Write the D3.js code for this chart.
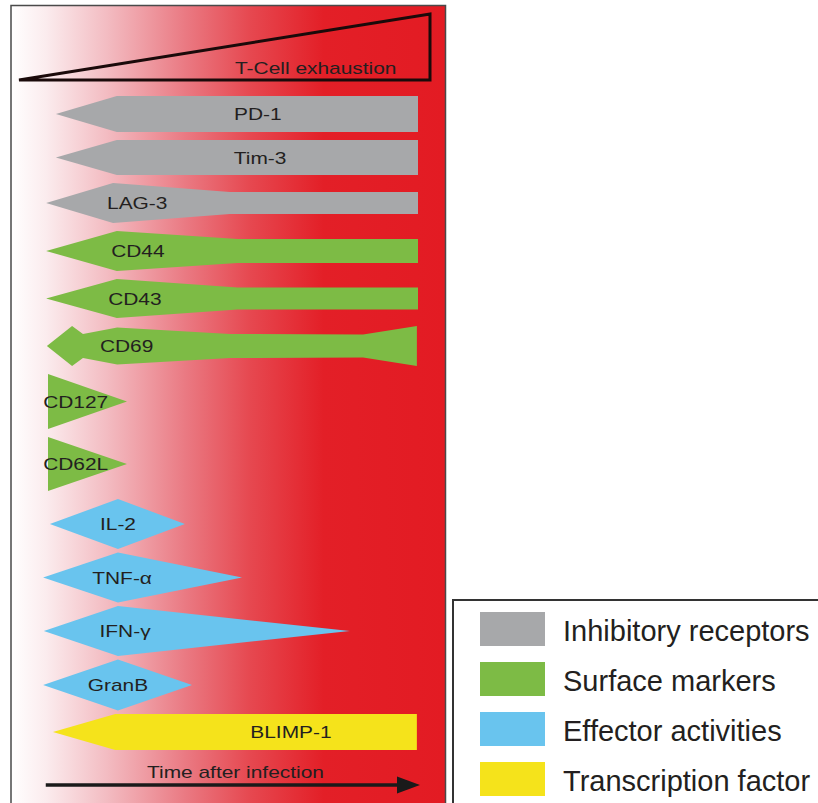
<!DOCTYPE html>
<html>
<head>
<meta charset="utf-8">
<script src="https://cdn.jsdelivr.net/npm/d3@7"></script>
<style>
  body { margin: 0; background: #fff; }
  svg { display: block; font-family: "Liberation Sans", Arial, Helvetica, sans-serif; }
</style>
</head>
<body>
<svg id="chart" width="818" height="803"></svg>
<script>
// markers, top to bottom
const markers = ["PD-1", "Tim-3", "LAG-3", "CD44", "CD43", "CD69", "CD127", "CD62L",
                 "IL-2", "TNF-\u03b1", "IFN-\u03b3", "GranB", "BLIMP-1"];
const groups = ["inhib", "inhib", "inhib", "surface", "surface", "surface", "surface", "surface",
                "effector", "effector", "effector", "effector", "tf"];

// expression profile of each marker: [time (0-100), level (0-10)]
const profiles = [
  [[3.7, 0], [19.9, 7.2], [100, 7.2]],
  [[3.7, 0], [19.9, 7.0], [100, 7.0]],
  [[1.1, 0], [18.9, 8.0], [50, 4.4], [100, 4.4]],
  [[1.1, 0], [19.9, 8.0], [52, 4.8], [100, 4.8]],
  [[1.1, 0], [19.9, 7.8], [52, 4.4], [100, 4.4]],
  [[1.3, 0], [8, 8.0], [10.9, 4.8], [20, 7.4], [50, 4.8], [85.4, 4.6], [99.7, 8.0]],
  [[1.6, 11.0], [22.6, 0]],
  [[1.6, 10.8], [22.6, 0]],
  [[2.1, 0], [20.2, 10.0], [38, 0]],
  [[0.3, 0], [20.2, 10.0], [53.2, 0]],
  [[0.5, 0], [20.2, 10.0], [81.9, 0]],
  [[0.3, 0], [20.2, 10.2], [39.9, 0]],
  [[2.9, 0], [19.5, 7.2], [99.7, 7.2]]
];

// where each label sits on the time axis
const labelAt = [57.4, 58, 17.3, 18.4, 17.6, 15.4, 0.3, 0.3, 20.2, 21.3, 22.1, 20.2, 66.2];
const labelAnchor = ["middle", "middle", "start", "start", "start", "start", "start", "start",
                     "middle", "middle", "middle", "middle", "middle"];

const legendKeys = ["inhib", "surface", "effector", "tf"];
const legendLabels = ["Inhibitory receptors", "Surface markers", "Effector activities", "Transcription factor"];

const colors = { inhib: "#a7a8aa", surface: "#7dbb45", effector: "#69c4ee", tf: "#f5e31b" };
const gaps = { inhib: 8, surface: 8, effector: 3.5, tf: 3.5 };
const textColor = "#231f20";
const fontSize = 17;
const stretch = 1.23; // panel text is horizontally stretched in the original

const svg = d3.select("#chart");

const x = d3.scaleLinear().domain([0, 100]).range([42, 418]);
const w = d3.scaleLinear().domain([0, 10]).range([0, 25]);

// background gradient
const defs = svg.append("defs");
const grad = defs.append("linearGradient").attr("id", "bg").attr("x1", 0).attr("x2", 1).attr("y1", 0).attr("y2", 0);
[[0, "#ffffff"], [0.08, "#fbecee"], [0.22, "#f3bcc2"], [0.4, "#ea7a83"], [0.55, "#e64850"],
 [0.72, "#e31f27"], [1, "#e31b23"]].forEach(([o, c]) =>
  grad.append("stop").attr("offset", o).attr("stop-color", c));

svg.append("rect")
  .attr("x", 11).attr("y", 5.5).attr("width", 434.5).attr("height", 830)
  .attr("fill", "url(#bg)").attr("stroke", "#4a4a4a").attr("stroke-width", 1.5);

// exhaustion wedge
svg.append("path")
  .attr("d", `M19,80 L430,14 L430,80 Z`)
  .attr("fill", "none").attr("stroke", "#1a0a0a").attr("stroke-width", 3)
  .attr("stroke-linejoin", "miter");

svg.append("text")
  .attr("transform", `translate(235,74) scale(${stretch},1)`)
  .attr("font-size", fontSize).attr("fill", textColor)
  .text("T-Cell exhaustion");

// stack rows by their max thickness
const heights = profiles.map(p => 2 * w(d3.max(p, d => d[1])));
const centers = [];
let yCursor = 96;
heights.forEach((h, i) => {
  if (i > 0) yCursor += Math.max(gaps[groups[i - 1]], gaps[groups[i]]);
  centers.push(yCursor + h / 2);
  yCursor += h;
});

const rows = svg.append("g").selectAll("g")
  .data(markers)
  .join("g");

rows.append("path")
  .attr("d", (d, i) => d3.area()
    .x(p => x(p[0]))
    .y0(p => centers[i] + w(p[1]))
    .y1(p => centers[i] - w(p[1]))(profiles[i]))
  .attr("fill", (d, i) => colors[groups[i]]);

rows.append("text")
  .attr("transform", (d, i) => `translate(${x(labelAt[i])},${centers[i] + 6}) scale(${stretch},1)`)
  .attr("text-anchor", (d, i) => labelAnchor[i])
  .attr("font-size", fontSize)
  .attr("fill", textColor)
  .text(d => d);

// time arrow
const ay = 785;
svg.append("line")
  .attr("x1", x(1)).attr("x2", x(100) - 20)
  .attr("y1", ay).attr("y2", ay)
  .attr("stroke", "#1a1a1a").attr("stroke-width", 3.5);
svg.append("path")
  .attr("d", `M${x(100) - 21},${ay - 8.5} L${x(100) + 2},${ay} L${x(100) - 21},${ay + 8.5} Z`)
  .attr("fill", "#1a1a1a");
svg.append("text")
  .attr("transform", `translate(147,778) scale(${stretch},1)`)
  .attr("font-size", fontSize).attr("fill", textColor)
  .text("Time after infection");

// legend
const lg = svg.append("g");
lg.append("rect")
  .attr("x", 453).attr("y", 600).attr("width", 400).attr("height", 300)
  .attr("fill", "#fff").attr("stroke", "#333").attr("stroke-width", 2);

const items = lg.selectAll("g.item")
  .data(legendKeys)
  .join("g")
  .attr("class", "item")
  .attr("transform", (d, i) => `translate(0,${i * 50})`);

items.append("rect")
  .attr("x", 480).attr("y", 612).attr("width", 65).attr("height", 34)
  .attr("fill", d => colors[d]);

items.append("text")
  .attr("x", 563).attr("y", 641)
  .attr("font-size", 29).attr("fill", textColor)
  .text((d, i) => legendLabels[i]);
</script>
</body>
</html>
